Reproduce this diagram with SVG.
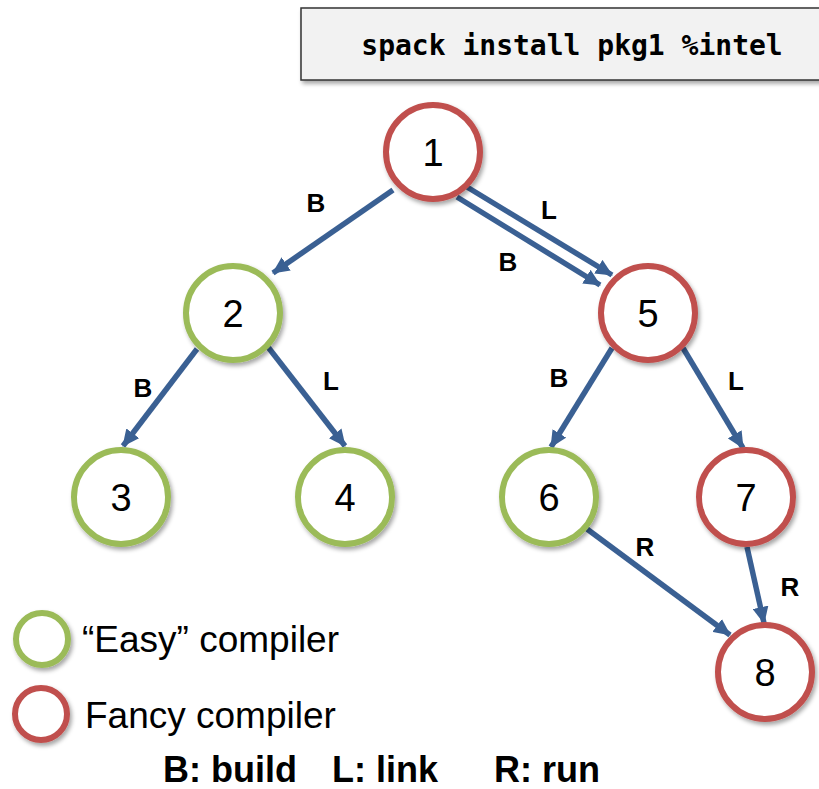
<svg xmlns="http://www.w3.org/2000/svg" width="819" height="789" viewBox="0 0 819 789">
<defs>
<filter id="sh" x="-20%" y="-20%" width="150%" height="150%">
<feDropShadow dx="2" dy="3" stdDeviation="2" flood-color="#000" flood-opacity="0.35"/>
</filter>
<marker id="ah" markerUnits="userSpaceOnUse" markerWidth="18" markerHeight="16" refX="16" refY="8" orient="auto">
<path d="M0,0 L17,8 L0,16 z" fill="#3a6093"/>
</marker>
</defs>
<style>
.n circle{fill:#fff;stroke-width:6;filter:url(#sh)}
.red circle{stroke:#c0504d}
.grn circle{stroke:#9bbb59}
.n text{font-family:"Liberation Sans",Arial,sans-serif;font-size:38px;text-anchor:middle;fill:#000}
.e line{stroke:#3a6093;stroke-width:5.5;marker-end:url(#ah)}
.lb{font-family:"Liberation Sans",Arial,sans-serif;font-weight:bold;font-size:26px;text-anchor:middle;fill:#000}
.lg{font-family:"Liberation Sans",Arial,sans-serif;font-size:37px;fill:#000}
.key{font-family:"Liberation Sans",Arial,sans-serif;font-weight:bold;font-size:36px;fill:#000}
</style>
<rect width="819" height="789" fill="#fff"/>
<g id="cmd">
<rect x="301" y="8" width="530" height="72" fill="#f2f2f2" stroke="#333" stroke-width="1.5" filter="url(#sh)"/>
<text x="572" y="55" font-family="DejaVu Sans Mono,Liberation Mono,monospace" font-weight="bold" font-size="28" text-anchor="middle">spack install pkg1 %intel</text>
</g>
<g id="edges" class="e">
<line x1="393" y1="190" x2="273" y2="273"/>
<line x1="467" y1="187" x2="612" y2="275"/>
<line x1="457" y1="197" x2="600" y2="285"/>
<line x1="197" y1="349" x2="123" y2="446"/>
<line x1="268" y1="347" x2="345" y2="446"/>
<line x1="612" y1="348" x2="551" y2="447"/>
<line x1="683" y1="348" x2="743" y2="448"/>
<line x1="587" y1="529" x2="730" y2="635"/>
<line x1="747" y1="547" x2="764" y2="623"/>
</g>
<g id="edge-labels">
<text class="lb" x="316" y="212">B</text>
<text class="lb" x="549" y="219">L</text>
<text class="lb" x="508" y="271">B</text>
<text class="lb" x="143" y="397">B</text>
<text class="lb" x="331" y="390">L</text>
<text class="lb" x="559" y="387">B</text>
<text class="lb" x="736" y="390">L</text>
<text class="lb" x="645" y="556">R</text>
<text class="lb" x="790" y="596">R</text>
</g>
<g id="n1" class="n red"><circle cx="433" cy="152" r="47"/><text x="433" y="166">1</text></g>
<g id="n2" class="n grn"><circle cx="233" cy="313" r="47"/><text x="233" y="327">2</text></g>
<g id="n5" class="n red"><circle cx="648" cy="313" r="47"/><text x="648" y="327">5</text></g>
<g id="n3" class="n grn"><circle cx="121" cy="497" r="47"/><text x="121" y="511">3</text></g>
<g id="n4" class="n grn"><circle cx="345" cy="497" r="47"/><text x="345" y="511">4</text></g>
<g id="n6" class="n grn"><circle cx="549" cy="497" r="47"/><text x="549" y="511">6</text></g>
<g id="n7" class="n red"><circle cx="746" cy="497" r="47"/><text x="746" y="511">7</text></g>
<g id="n8" class="n red"><circle cx="765" cy="672" r="47"/><text x="765" y="686">8</text></g>
<g id="legend">
<g class="n grn"><circle cx="42" cy="639" r="26" stroke-width="6"/></g>
<g class="n red"><circle cx="41" cy="714" r="26" stroke-width="6"/></g>
<text class="lg" x="82" y="652">“Easy” compiler</text>
<text class="lg" x="85" y="728">Fancy compiler</text>
<text class="key" x="163" y="782">B: build</text>
<text class="key" x="332" y="782">L: link</text>
<text class="key" x="494" y="782">R: run</text>
</g>
</svg>
